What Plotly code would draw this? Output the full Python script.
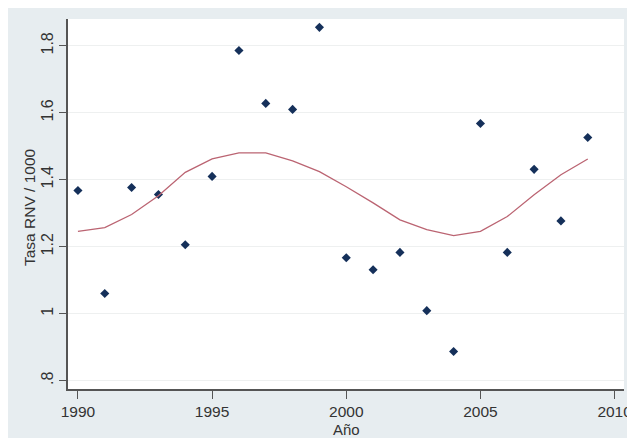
import plotly.graph_objects as go

years = list(range(1990, 2010))
tasa = [1.368, 1.060, 1.377, 1.356, 1.206, 1.410, 1.786, 1.628, 1.610, 1.855,
        1.167, 1.131, 1.183, 1.009, 0.887, 1.568, 1.183, 1.431, 1.277, 1.526]
suav = [1.246, 1.257, 1.296, 1.352, 1.422, 1.462, 1.480, 1.480, 1.456, 1.424,
        1.379, 1.331, 1.280, 1.251, 1.233, 1.246, 1.290, 1.355, 1.415, 1.462]
xticks = [1990, 1995, 2000, 2005, 2010]
yticks = [0.8, 1.0, 1.2, 1.4, 1.6, 1.8]
yticklabels = [".8", "1", "1.2", "1.4", "1.6", "1.8"]

# page body adds an 8px offset; figure fills the rest of the 635x438 window
W, H = 627, 430
ml, mr, mt, mb = 60, 11, 11, 49
pw, ph = W - ml - mr, H - mt - mb

fig = go.Figure()
fig.add_trace(go.Scatter(x=years, y=tasa, mode="markers",
                         marker=dict(symbol="diamond", size=7, color="#15305a"),
                         showlegend=False))
fig.add_trace(go.Scatter(x=years, y=suav, mode="lines",
                         line=dict(color="#bb6472", width=1.3),
                         showlegend=False))

bg = "#e7edf0"

fig.add_annotation(text="Año", xref="paper", yref="paper", x=0.5,
                   y=-(421 - (mt + ph)) / ph, showarrow=False,
                   xanchor="center", yanchor="middle", font=dict(size=15))
fig.add_annotation(text="Tasa RNV / 1000", xref="paper", yref="paper",
                   x=-(ml - 21) / pw, y=0.5 - (199 - (mt + ph / 2)) / ph,
                   showarrow=False, textangle=-90,
                   xanchor="center", yanchor="middle", font=dict(size=15.5))

font = dict(family="Liberation Sans, Arial, sans-serif", size=16, color="#333333")
fig.update_layout(
    width=W, height=H,
    margin=dict(l=ml, r=mr, t=mt, b=mb, autoexpand=False),
    paper_bgcolor=bg, plot_bgcolor="white",
    font=font,
    xaxis=dict(range=[1989.63, 2010.35], tickvals=xticks, ticks="outside",
               ticklen=8, tickcolor="#555555", showgrid=False, zeroline=False,
               showline=True, linecolor="#555555", linewidth=1.5,
               automargin=False, tickfont=dict(size=15.5)),
    yaxis=dict(range=[0.775, 1.88], tickvals=yticks, ticktext=yticklabels,
               tickangle=-90, ticks="outside", ticklen=7, tickcolor="#555555",
               showgrid=True, gridcolor="#eef0f0", gridwidth=1, zeroline=False,
               showline=True, linecolor="#555555", linewidth=1.5,
               automargin=False, tickfont=dict(size=16)),
)

fig.write_html("out.html")
